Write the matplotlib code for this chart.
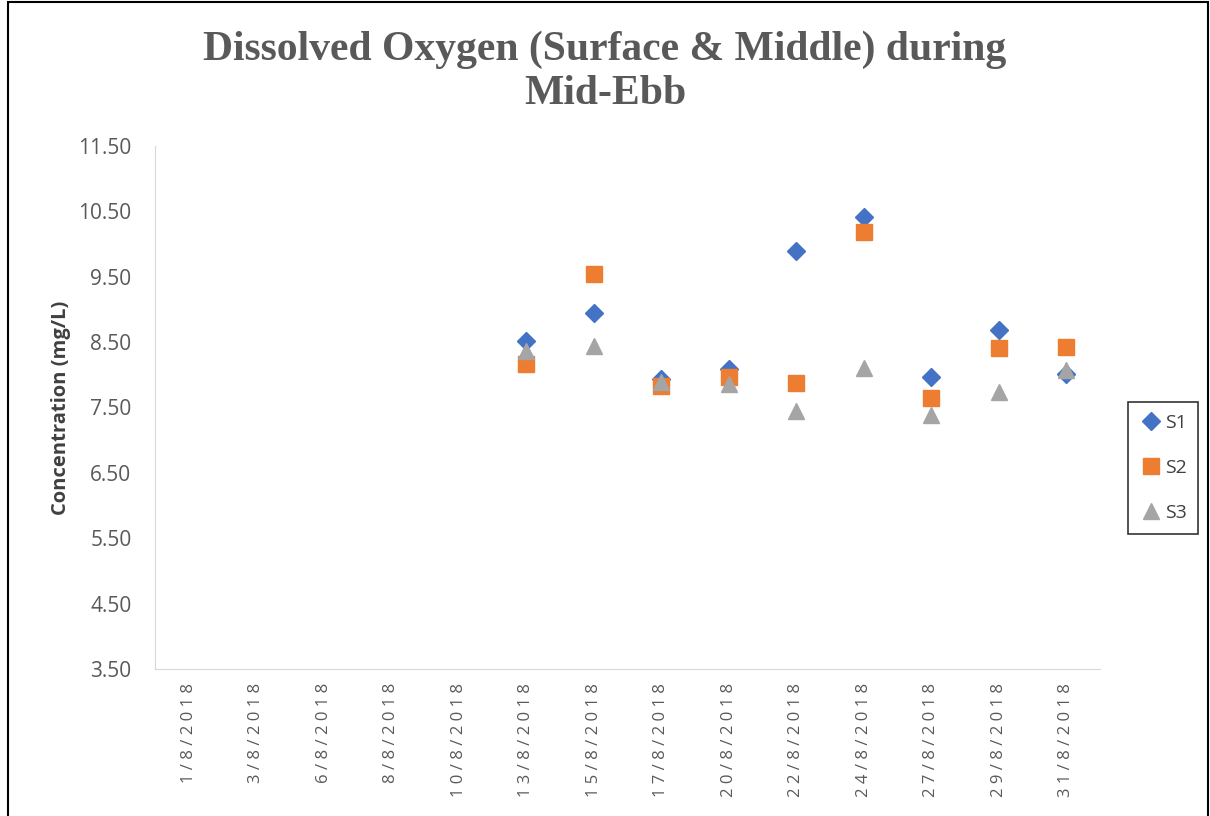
import matplotlib.pyplot as plt
import numpy as np
from matplotlib.patches import Rectangle

dates = ['1/8/2018', '3/8/2018', '6/8/2018', '8/8/2018', '10/8/2018', '13/8/2018',
         '15/8/2018', '17/8/2018', '20/8/2018', '22/8/2018', '24/8/2018',
         '27/8/2018', '29/8/2018', '31/8/2018']
nan = np.nan
s1 = [nan, nan, nan, nan, nan, 8.52, 8.94, 7.93, 8.09, 9.89, 10.41, 7.96, 8.68, 8.01]
s2 = [nan, nan, nan, nan, nan, 8.16, 9.54, 7.83, 7.96, 7.87, 10.18, 7.64, 8.41, 8.42]
s3 = [nan, nan, nan, nan, nan, 8.36, 8.44, 7.89, 7.86, 7.44, 8.10, 7.38, 7.74, 8.07]
yticks = np.arange(3.5, 11.51, 1.0)

fig = plt.figure(figsize=(12.1, 8.16), dpi=100)
ax = fig.add_axes([155 / 1210, 1 - 669 / 816, 945 / 1210, 523 / 816])

x = np.arange(len(dates))
ax.plot(x, s1, 'D', color='#4472C4', markersize=9.5, label='S1', linestyle='none')
ax.plot(x, s2, 's', color='#ED7D31', markersize=12, label='S2', linestyle='none')
ax.plot(x, s3, '^', color='#A5A5A5', markersize=12, label='S3', linestyle='none')

ax.set_xlim(-0.5, len(dates) - 0.5)
ax.set_ylim(3.5, 11.5)
ax.set_yticks(yticks)
ax.set_yticklabels([f'{v:.2f}' for v in yticks], fontsize=15, color='#595959',
                   family='Open Sans')
ax.set_xticks(x)
# labels in the original are letter-spaced
ax.set_xticklabels([' '.join(d) for d in dates], rotation=90, fontsize=12,
                   color='#595959', family='Open Sans')
ax.tick_params(axis='y', length=0, pad=17)
ax.tick_params(axis='x', length=0, pad=10)

for side in ['top', 'right']:
    ax.spines[side].set_visible(False)
ax.spines['left'].set_color('#D9D9D9')
ax.spines['bottom'].set_color('#D9D9D9')

ax.set_ylabel('Concentration (mg/L)', fontsize=14.5, fontweight='bold',
              color='#404040', family='Open Sans', labelpad=5)

fig.text(0.5, 1 - 50 / 816, 'Dissolved Oxygen (Surface & Middle) during',
         ha='center', va='center', fontsize=30, fontweight='bold',
         color='#595959', family='Liberation Serif')
fig.text(0.5, 1 - 94 / 816, 'Mid-Ebb', ha='center', va='center', fontsize=30,
         fontweight='bold', color='#595959', family='Liberation Serif')

leg = fig.legend(loc='center', bbox_to_anchor=(1163 / 1210, 1 - 468 / 816),
                 frameon=True, fancybox=False, edgecolor='black',
                 prop={'family': 'Open Sans', 'size': 14},
                 labelspacing=1.4, handletextpad=0.1, handlelength=1.2,
                 borderpad=0.6, borderaxespad=0)
leg.get_frame().set_linewidth(1.2)
for t in leg.get_texts():
    t.set_color('#404040')

fig.patches.append(Rectangle((8 / 1210, -0.01), 1200 / 1210, 1 - 2 / 816 + 0.01,
                             transform=fig.transFigure, fill=False,
                             edgecolor='black', linewidth=1.5))

fig.savefig('out.png', dpi=100)
